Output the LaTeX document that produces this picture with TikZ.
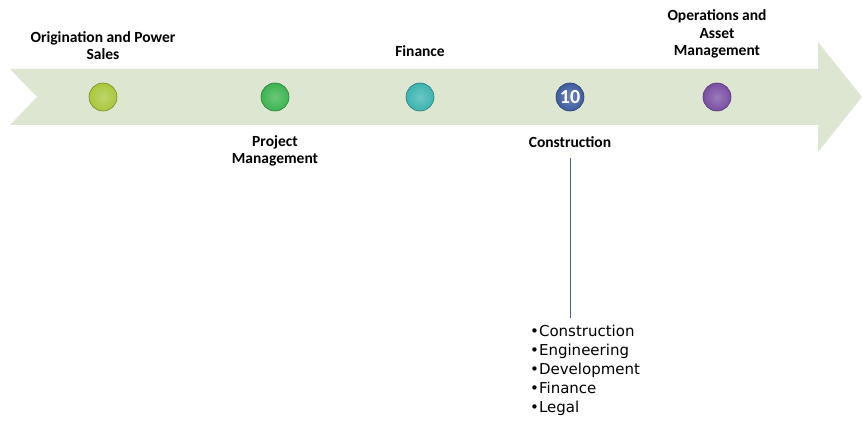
\documentclass[tikz,border=0pt]{standalone}
\usepackage{fontspec}
\setmainfont{Carlito}
\newfontfamily\listfont{DejaVu Sans}
\usetikzlibrary{positioning,calc,arrows.meta}
\definecolor{bandgreen}{RGB}{221,230,208}
\definecolor{dotlime}{RGB}{168,200,58}
\definecolor{dotgreen}{RGB}{60,180,80}
\definecolor{dotteal}{RGB}{60,180,176}
\definecolor{dotblue}{RGB}{62,92,160}
\definecolor{dotpurple}{RGB}{122,78,164}
\definecolor{linkblue}{RGB}{70,90,150}
\tikzset{
    stage/.style={circle, minimum size=28pt, inner sep=0pt, draw=#1!70!black, line width=0.6pt,
        inner color=#1!75!white, outer color=#1},
    phase/.style={align=center, font=\fontsize{15.5}{17.5}\selectfont\bfseries},
    items/.style={align=left, inner sep=0pt, font=\listfont\fontsize{15}{19}\selectfont},
}

\begin{document}
\begin{tikzpicture}[x=1pt,y=-1pt]
    \useasboundingbox (0,0) rectangle (862,422);
    % timeline band
    \fill[bandgreen] (10,69) -- (818,69) -- (818,42) -- (862,97) -- (818,152)
        -- (818,125) -- (10,125) -- (37,97) -- cycle;
    \node[stage=dotlime] (orig) at (103,97) {};
    \node[stage=dotgreen] (proj) at (275,97) {};
    \node[stage=dotteal] (fin) at (420,97) {};
    \node[stage=dotblue, text=white, font=\fontsize{20}{20}\selectfont\bfseries] (cons) at (570,97) {10};
    \node[stage=dotpurple] (ops) at (717,97) {};
    \node[phase] (origlabel) at (103,45.5) {Origination and Power\\Sales};
    \node[phase] (projlabel) at (275,151) {Project\\Management};
    \node[phase] (finlabel) at (420,51) {Finance};
    \node[phase] (conslabel) at (570,142) {Construction};
    \node[phase] (opslabel) at (717,34) {Operations and\\Asset\\Management};
    \node[items, anchor=north west] (conslist) at (530,325) {\textbullet Construction\\\textbullet Engineering\\\textbullet Development\\\textbullet Finance\\\textbullet Legal};
    \coordinate (linktop) at (570,158);
    \coordinate (linkbottom) at (570,318);
    \draw[linkblue, line width=0.8pt] (linktop) -- (linkbottom);
\end{tikzpicture}
\end{document}
